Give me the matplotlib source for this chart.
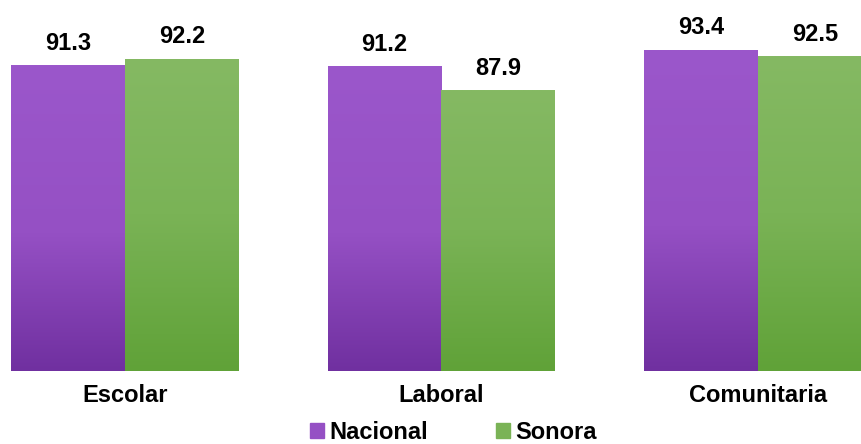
import numpy as np
import matplotlib
matplotlib.use('Agg')
import matplotlib.pyplot as plt
from matplotlib.colors import LinearSegmentedColormap
from matplotlib.patches import Patch

categories = ["Escolar", "Laboral", "Comunitaria"]
nacional = [91.3, 91.2, 93.4]
sonora = [92.2, 87.9, 92.5]
series_names = ["Nacional", "Sonora"]

plt.rcParams['font.family'] = ['Liberation Sans', 'DejaVu Sans']
plt.rcParams['font.weight'] = 'bold'

purple_cmap = LinearSegmentedColormap.from_list(
    "purple", [(0, "#7030A0"), (0.45, "#9550C4"), (1, "#9B57CB")])
green_cmap = LinearSegmentedColormap.from_list(
    "green", [(0, "#60A238"), (0.5, "#7AB356"), (1, "#85B963")])

fig = plt.figure(figsize=(8.62, 4.44), dpi=100)
ax = fig.add_axes([0, 0.1644, 1, 0.8356])

x = np.arange(len(categories))
w = 0.36
ymin = 50

grad = np.linspace(0, 1, 256).reshape(-1, 1)

def gradient_bars(bars, cmap):
    for b in bars:
        x0, y0 = b.get_x(), b.get_y()
        x1, y1 = x0 + b.get_width(), y0 + b.get_height()
        im = ax.imshow(grad, cmap=cmap, origin='lower', aspect='auto',
                       extent=(x0, x1, y0, y1), zorder=2)
        im.set_clip_path(b)

b1 = ax.bar(x - w / 2, np.array(nacional) - ymin, w, bottom=ymin,
            color="#9550C4", zorder=1, linewidth=0)
b2 = ax.bar(x + w / 2, np.array(sonora) - ymin, w, bottom=ymin,
            color="#7AB356", zorder=1, linewidth=0)
gradient_bars(b1, purple_cmap)
gradient_bars(b2, green_cmap)

for xs, vals in [(x - w / 2, nacional), (x + w / 2, sonora)]:
    for xi, v in zip(xs, vals):
        ax.annotate(f"{v:.1f}", (xi, v), xytext=(0, 11), textcoords='offset points',
                    ha='center', va='baseline', fontsize=17, fontweight='bold')

ax.set_xlim(-125 / 316.5, (862 - 125) / 316.5)
ax.set_ylim(ymin, 100.1)
ax.set_xticks(x)
ax.set_xticklabels(categories, fontsize=17, fontweight='bold')
ax.tick_params(axis='x', length=0, pad=9)
ax.set_yticks([])
for s in ax.spines.values():
    s.set_visible(False)

handles = [Patch(color="#9550C4"), Patch(color="#7AB356")]
ax.legend(handles, series_names, loc='lower center', bbox_to_anchor=(0.526, 0.0),
          bbox_transform=fig.transFigure, ncol=2, frameon=False,
          prop={'size': 17, 'weight': 'bold'}, handlelength=0.6, handleheight=0.6,
          handletextpad=0.2, columnspacing=2.9, borderpad=0, borderaxespad=0)

fig.savefig("out.png", dpi=100)
